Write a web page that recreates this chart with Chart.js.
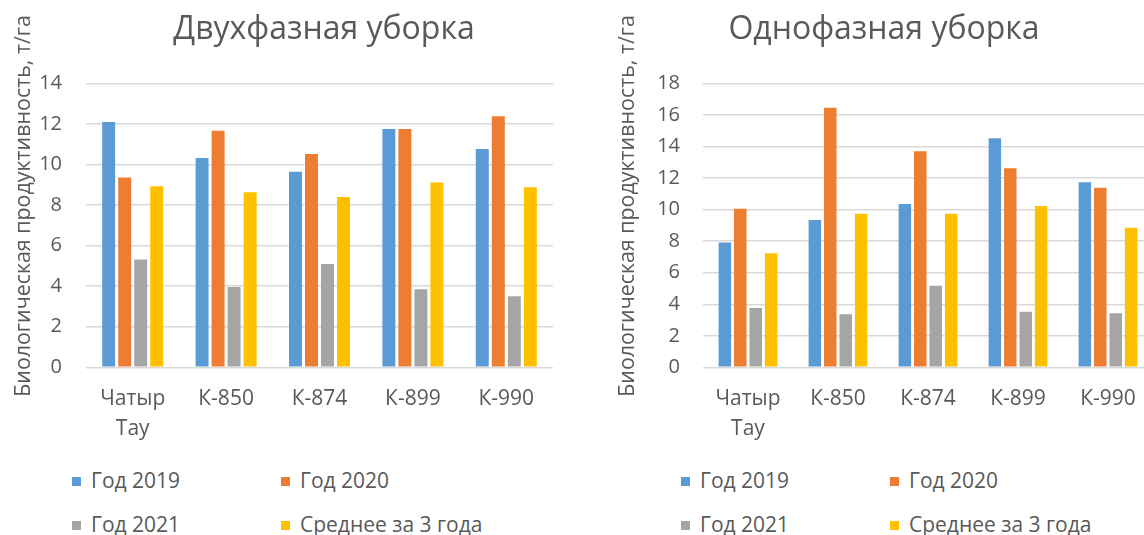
<!DOCTYPE html>
<html>
<head>
<meta charset="utf-8">
<script src="https://cdn.jsdelivr.net/npm/chart.js@4"></script>
<style>
  body { margin: 0; width: 1144px; height: 535px; overflow: hidden; position: relative; background: #fff; font-family: "Open Sans", sans-serif; }
  .box { position: absolute; top: 0; height: 461px; }
  #left { left: 0; width: 644px; }
  #right { left: 600px; width: 564px; }
  .legend { position: absolute; color: #595959; font-size: 21px; }
  .legend .item { position: absolute; white-space: nowrap; line-height: 24px; }
  .legend .sq { display: inline-block; width: 9px; height: 9px; margin-right: 10px; vertical-align: 2px; }
</style>
</head>
<body>
<div class="box" id="left"><canvas id="chart1"></canvas></div>
<div class="box" id="right"><canvas id="chart2"></canvas></div>
<div class="legend" id="legend1"></div>
<div class="legend" id="legend2"></div>
<script>
let categories = [['Чатыр', 'Тау'], 'К-850', 'К-874', 'К-899', 'К-990'];
let seriesNames = ['Год 2019', 'Год 2020', 'Год 2021', 'Среднее за 3 года'];
let seriesColors = ['#5B9BD5', '#ED7D31', '#A5A5A5', '#FFC000'];

// Двухфазная уборка
let twoPhase2019 = [12.1, 10.32, 9.64, 11.75, 10.76];
let twoPhase2020 = [9.36, 11.66, 10.52, 11.75, 12.38];
let twoPhase2021 = [5.32, 3.96, 5.1, 3.85, 3.5];
let twoPhaseAvg = [8.93, 8.63, 8.4, 9.11, 8.88];

// Однофазная уборка
let onePhase2019 = [7.92, 9.34, 10.36, 14.53, 11.73];
let onePhase2020 = [10.06, 16.45, 13.7, 12.62, 11.39];
let onePhase2021 = [3.77, 3.37, 5.17, 3.52, 3.43];
let onePhaseAvg = [7.24, 9.74, 9.74, 10.23, 8.85];

// leading spaces push the rotated title up a little, like in the original
let yTitle = '       Биологическая продуктивность, т/га';
let textColor = '#595959';
let gridColor = '#D9D9D9';

function makeDatasets(rows) {
  return rows.map((d, i) => ({
    label: seriesNames[i],
    data: d,
    backgroundColor: seriesColors[i],
    borderWidth: 0,
    categoryPercentage: 0.686,
    barPercentage: 0.81
  }));
}

function makeChart(id, title, rows, yMax, yWidth, rightWidth, titlePad, tickPad) {
  return new Chart(document.getElementById(id), {
    type: 'bar',
    data: { labels: categories, datasets: makeDatasets(rows) },
    options: {
      responsive: true,
      maintainAspectRatio: false,
      animation: false,
      layout: { padding: { left: 4, right: 0, bottom: 8 } },
      plugins: {
        legend: { display: false },
        tooltip: { enabled: false },
        title: {
          display: true,
          text: title,
          color: textColor,
          font: { family: 'Open Sans', size: 32, weight: 'normal', lineHeight: 1.2 },
          padding: { top: 11, bottom: 34 }
        }
      },
      scales: {
        x: {
          grid: { display: false },
          border: { display: false },
          ticks: {
            color: textColor,
            padding: 9,
            maxRotation: 0,
            font: { family: 'Open Sans', size: 21, lineHeight: 1.42 }
          }
        },
        y: {
          min: 0,
          max: yMax,
          border: { display: false },
          grid: { color: gridColor, lineWidth: 1.5, drawTicks: false },
          ticks: {
            stepSize: 2,
            color: textColor,
            padding: tickPad,
            font: { family: 'Open Sans', size: 20 }
          },
          title: {
            display: true,
            text: yTitle,
            color: textColor,
            padding: { top: titlePad, bottom: 0 },
            font: { family: 'Open Sans', size: 21.4, lineHeight: 1.2 }
          },
          afterFit: s => { s.width = yWidth; }
        },
        y2: {
          position: 'right',
          min: 0,
          max: yMax,
          grid: { display: false },
          border: { display: false },
          ticks: { display: false },
          afterFit: s => { s.width = rightWidth; }
        }
      }
    }
  });
}

makeChart('chart1', 'Двухфазная уборка',
  [twoPhase2019, twoPhase2020, twoPhase2021, twoPhaseAvg], 14, 82, 91, 7, 24);
makeChart('chart2', 'Однофазная уборка',
  [onePhase2019, onePhase2020, onePhase2021, onePhaseAvg], 18, 99, 11, 11, 23);

function makeLegend(id, xs) {
  let el = document.getElementById(id);
  let ys = [468, 512];
  seriesNames.forEach((name, i) => {
    let item = document.createElement('div');
    item.className = 'item';
    item.style.left = xs[i % 2] + 'px';
    item.style.top = ys[Math.floor(i / 2)] + 'px';
    item.innerHTML = '<span class="sq" style="background:' + seriesColors[i] + '"></span>' + name;
    el.appendChild(item);
  });
}
makeLegend('legend1', [72, 281]);
makeLegend('legend2', [681, 890]);
</script>
</body>
</html>
